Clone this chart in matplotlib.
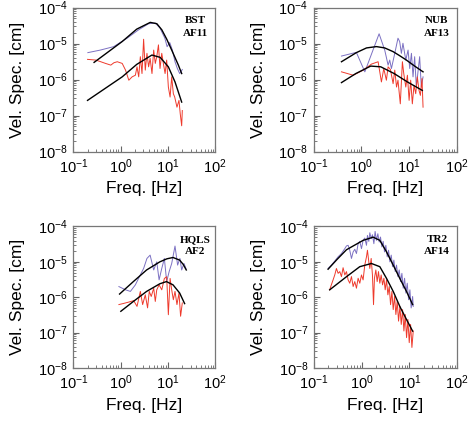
import matplotlib
matplotlib.use("Agg")
import matplotlib.pyplot as plt
from matplotlib.ticker import LogLocator, LogFormatterSciNotation, NullFormatter

plt.rcParams['font.family'] = ['Liberation Sans', 'DejaVu Sans']
plt.rcParams['mathtext.default'] = 'regular'

PURPLE = '#7b70c2'
RED = '#ee3a2c'

# ---- BST / AF11 ----
bst_model_hi_f = [0.275, 1.08, 2.19, 4.23, 5.83, 7.41, 9.44, 12.0, 16.6, 19.5]
bst_model_hi_v = [3.0e-6, 1.14e-5, 2.52e-5, 3.88e-5, 3.56e-5, 2.42e-5, 1.32e-5, 6.6e-6, 2.52e-6, 1.47e-6]
bst_model_lo_f = [0.20, 1.08, 2.19, 4.58, 6.84, 10.2, 14.1, 19.5]
bst_model_lo_v = [2.64e-7, 1.19e-6, 2.64e-6, 4.8e-6, 4.14e-6, 2.26e-6, 8.6e-7, 2.37e-7]
bst_obs_a_f = [0.203, 0.373, 0.71, 1.37, 2.41, 3.9, 5.4, 6.8, 8.6, 9.6, 10.9, 12.4, 14.1, 15.8, 17.7, 20.1]
bst_obs_a_v = [5.6e-6, 6.6e-6, 8.2e-6, 1.41e-5, 2.42e-5, 3.56e-5, 3.72e-5, 2.69e-5, 1.41e-5, 8.2e-6,
               1.07e-5, 6.6e-6, 3.13e-6, 2.03e-6, 1.47e-6, 1.9e-6]
bst_obs_b_f = [0.20, 0.30, 0.38, 0.48, 0.62, 0.72, 0.85, 1.08, 1.27, 1.49, 1.75, 2.05, 2.22, 2.41, 2.61,
               2.83, 3.06, 3.32, 3.6, 3.9, 4.2, 4.6, 5.0, 5.4, 5.8, 6.3, 6.8, 7.4, 8.0, 8.7, 9.4, 10.2,
               11.1, 12.0, 13.0, 13.9, 15.5, 17.1, 18.2, 19.5, 20.1]
bst_obs_b_v = [3.64e-6, 3.48e-6, 3.13e-6, 2.81e-6, 2.52e-6, 2.93e-6, 3.13e-6, 2.81e-6, 1.83e-6, 9.6e-7,
               1.19e-6, 1.32e-6, 2.26e-6, 1.19e-6, 4.32e-6, 1.47e-6, 1.32e-5, 1.83e-6, 5.36e-6, 2.26e-6,
               3.88e-6, 1.47e-6, 6.6e-6, 2.81e-6, 4.32e-6, 9.2e-6, 2.03e-6, 5.36e-6, 2.81e-6, 1.47e-6,
               3.48e-6, 6.2e-7, 3.27e-7, 1.19e-6, 4.05e-7, 3.27e-7, 1.71e-7, 2.64e-7, 1.11e-7, 5.2e-8, 1.38e-7]

# ---- NUB / AF13 ----
nub_model_hi_f = [0.385, 0.79, 1.29, 2.08, 3.11, 4.66, 6.4, 8.85, 13.2, 19.8]
nub_model_hi_v = [3.13e-6, 5.6e-6, 7.57e-6, 8.24e-6, 7.57e-6, 5.97e-6, 4.61e-6, 3.48e-6, 2.37e-6, 1.64e-6]
nub_model_lo_f = [0.385, 0.77, 1.58, 2.57, 4.9, 9.3, 19.1]
nub_model_lo_v = [8.24e-7, 1.47e-6, 2.37e-6, 2.26e-6, 1.47e-6, 8.6e-7, 5.0e-7]
nub_obs_a_f = [0.385, 0.79, 1.19, 2.37, 3.11, 3.66, 3.96, 4.3, 5.05, 5.9, 6.4, 6.95, 7.5, 8.6, 9.6,
               10.4, 11.3, 12.2, 13.2, 14.3, 15.5, 16.8, 18.2, 19.8]
nub_obs_a_v = [4.5e-6, 5.7e-6, 1.64e-6, 1.87e-5, 6.6e-6, 2.52e-6, 3.48e-6, 2.03e-6, 5.36e-6, 1.41e-5,
               1.14e-5, 5.36e-6, 1.02e-5, 3.48e-6, 6.6e-6, 2.03e-6, 5.36e-6, 1.19e-6, 4.32e-6, 6.2e-7,
               1.64e-6, 4.32e-6, 6.2e-7, 1.19e-6]
nub_obs_b_f = [0.385, 0.68, 1.10, 1.64, 2.26, 2.65, 2.97, 3.37, 3.66, 4.1, 4.66, 5.05, 5.5, 5.9, 6.6,
               7.3, 7.8, 8.6, 9.3, 10.1, 10.9, 11.8, 12.8, 13.9, 15.0, 16.3, 17.4, 18.8, 19.8]
nub_obs_b_v = [1.64e-6, 1.32e-6, 1.83e-6, 2.69e-6, 3.13e-6, 8.6e-7, 2.03e-6, 9.6e-7, 2.26e-6, 1.9e-6,
               7.7e-7, 1.83e-6, 6.2e-7, 9.6e-7, 2.12e-7, 3.13e-6, 1.47e-6, 6.2e-7, 1.32e-6, 2.64e-7,
               9.6e-7, 2.12e-7, 6.9e-7, 4.05e-7, 1.19e-6, 5.0e-7, 3.64e-7, 1.07e-6, 1.71e-7]

# ---- HQLS / AF2 ----
hqls_model_hi_f = [0.95, 1.86, 3.54, 6.73, 9.5, 12.8, 17.7, 21.0, 24.4]
hqls_model_hi_v = [1.23e-6, 2.77e-6, 5.9e-6, 1.0e-5, 1.22e-5, 1.33e-5, 1.12e-5, 8.5e-6, 5.9e-6]
hqls_model_lo_f = [1.01, 1.86, 3.54, 6.73, 9.3, 12.8, 17.7, 22.5]
hqls_model_lo_v = [4.0e-7, 7.6e-7, 1.46e-6, 2.4e-6, 2.77e-6, 2.24e-6, 1.31e-6, 6.6e-7]
hqls_obs_a_f = [0.92, 1.27, 1.61, 2.05, 2.61, 3.06, 3.6, 4.2, 5.0, 5.8, 6.5, 7.4, 8.4, 9.4, 10.6,
                12.0, 14.1, 16.0, 17.9, 19.5, 21.8, 24.0]
hqls_obs_a_v = [2.0e-6, 1.62e-6, 1.46e-6, 2.24e-6, 4.3e-6, 6.5e-6, 1.25e-5, 1.55e-5, 5.9e-6, 1.0e-5,
                3.1e-6, 6.5e-6, 1.25e-5, 2.77e-6, 5.3e-6, 9.0e-6, 2.8e-5, 8.1e-6, 1.25e-5, 5.9e-6,
                9.0e-6, 6.5e-6]
hqls_obs_b_f = [0.92, 1.17, 1.49, 1.89, 2.22, 2.61, 2.92, 3.32, 3.71, 4.03, 4.43, 5.0, 5.4, 5.8, 6.5,
                7.4, 8.4, 9.4, 10.2, 11.1, 12.0, 13.0, 14.1, 15.5, 17.1, 18.5, 20.1]
hqls_obs_b_v = [6.2e-7, 6.7e-7, 7.3e-7, 8.0e-7, 5.5e-7, 1.46e-6, 6.2e-7, 1.17e-6, 5.0e-7, 1.46e-6,
                1.05e-6, 1.8e-6, 7.6e-7, 1.62e-6, 2.24e-6, 1.62e-6, 3.4e-6, 3.8e-6, 3.2e-7, 3.4e-6,
                1.62e-6, 8.5e-7, 1.46e-6, 6.2e-7, 1.31e-6, 2.9e-7, 6.9e-7]

# ---- TR2 / AF14 ----
tr2_model_hi_f = [0.197, 0.30, 0.479, 1.07, 1.74, 2.40, 3.32, 4.58, 6.3, 8.7, 11.7]
tr2_model_hi_v = [6.2e-6, 1.15e-5, 2.2e-5, 4.05e-5, 5.0e-5, 4.05e-5, 1.91e-5, 8.1e-6, 3.4e-6, 1.46e-6, 6.2e-7]
tr2_model_lo_f = [0.213, 0.479, 0.91, 1.60, 2.40, 3.32, 4.58, 6.3, 8.7, 11.7]
tr2_model_lo_v = [1.62e-6, 3.8e-6, 7.3e-6, 9.0e-6, 7.3e-6, 3.4e-6, 1.46e-6, 5.5e-7, 2.35e-7, 1.1e-7]
tr2_obs_a_f = [0.197, 0.231, 0.272, 0.320, 0.376, 0.442, 0.479, 0.519, 0.562, 0.610, 0.661, 0.716,
               0.776, 0.841, 0.912, 0.989, 1.07, 1.16, 1.26, 1.32, 1.41, 1.48, 1.58, 1.68, 1.80, 1.91,
               2.04, 2.18, 2.33, 2.48, 2.65, 2.82, 3.01, 3.21, 3.43, 3.66, 3.90, 4.16, 4.44, 4.73,
               5.05, 5.38, 5.74, 6.12, 6.53, 6.97, 7.43, 7.93, 8.45, 9.02, 9.62, 10.26, 10.9, 11.7, 12.05]
tr2_obs_a_v = [6.5e-6, 8.1e-6, 1.05e-5, 1.39e-5, 1.72e-5, 2.37e-5, 2.82e-5, 2.94e-5, 2.13e-5, 1.25e-5,
               1.91e-5, 2.27e-5, 1.72e-5, 3.27e-5, 3.8e-5, 2.37e-5, 4.06e-5, 4.72e-5, 2.94e-5, 5.6e-5,
               3.8e-5, 6.65e-5, 4.52e-5, 5.85e-5, 3.27e-5, 7.25e-5, 4.06e-5, 6.24e-5, 3.65e-5, 5.03e-5,
               2.64e-5, 3.8e-5, 1.91e-5, 2.94e-5, 1.39e-5, 2.13e-5, 1.0e-5, 1.55e-5, 7.3e-6, 1.12e-5,
               5.3e-6, 8.1e-6, 3.83e-6, 5.9e-6, 2.77e-6, 4.74e-6, 1.8e-6, 3.44e-6, 1.31e-6, 2.49e-6,
               8.5e-7, 1.62e-6, 4.98e-7, 1.05e-6, 5.5e-7]
tr2_obs_b_f = [0.213, 0.231, 0.251, 0.272, 0.295, 0.320, 0.347, 0.376, 0.407, 0.442, 0.479, 0.519,
               0.562, 0.610, 0.661, 0.716, 0.776, 0.841, 0.912, 0.989, 1.07, 1.16, 1.26, 1.32, 1.41,
               1.48, 1.58, 1.68, 1.77, 1.85, 1.98, 2.11, 2.25, 2.40, 2.56, 2.74, 2.92, 3.11, 3.32, 3.54,
               3.78, 4.03, 4.30, 4.58, 4.89, 5.21, 5.56, 5.93, 6.33, 6.75, 7.2, 7.68, 8.19, 8.73, 9.31,
               9.93, 10.6, 11.3, 12.05]
tr2_obs_b_v = [1.62e-6, 2.24e-6, 3.09e-6, 4.26e-6, 6.5e-6, 4.74e-6, 5.3e-6, 3.83e-6, 6.83e-6, 4.26e-6,
               5.3e-6, 3.09e-6, 2.49e-6, 3.83e-6, 2.01e-6, 2.77e-6, 1.8e-6, 3.44e-6, 2.49e-6, 4.26e-6,
               3.09e-6, 8.1e-6, 1.39e-5, 2.13e-5, 1.0e-5, 6.5e-6, 1.25e-5, 4.26e-6, 6.17e-7, 3.44e-6,
               5.9e-6, 2.77e-6, 5.3e-6, 2.49e-6, 4.26e-6, 2.24e-6, 3.44e-6, 1.62e-6, 3.09e-6, 1.17e-6,
               2.01e-6, 6.17e-7, 1.46e-6, 4.47e-7, 1.05e-6, 3.24e-7, 7.6e-7, 2.11e-7, 5.5e-7, 1.7e-7,
               4.47e-7, 1.11e-7, 3.24e-7, 7.2e-8, 2.35e-7, 5.2e-8, 1.7e-7, 3.8e-8, 1.11e-7]

station_names = ['BST', 'NUB', 'HQLS', 'TR2']
event_names = ['AF11', 'AF13', 'AF2', 'AF14']

panels = [
    (bst_obs_a_f, bst_obs_a_v, bst_obs_b_f, bst_obs_b_v,
     bst_model_hi_f, bst_model_hi_v, bst_model_lo_f, bst_model_lo_v),
    (nub_obs_a_f, nub_obs_a_v, nub_obs_b_f, nub_obs_b_v,
     nub_model_hi_f, nub_model_hi_v, nub_model_lo_f, nub_model_lo_v),
    (hqls_obs_a_f, hqls_obs_a_v, hqls_obs_b_f, hqls_obs_b_v,
     hqls_model_hi_f, hqls_model_hi_v, hqls_model_lo_f, hqls_model_lo_v),
    (tr2_obs_a_f, tr2_obs_a_v, tr2_obs_b_f, tr2_obs_b_v,
     tr2_model_hi_f, tr2_model_hi_v, tr2_model_lo_f, tr2_model_lo_v),
]

# axes boxes in figure fractions [left, bottom, width, height]
boxes = [
    [0.1566, 0.640, 0.3034, 0.342],
    [0.6700, 0.640, 0.3056, 0.342],
    [0.1566, 0.126, 0.3034, 0.336],
    [0.6710, 0.126, 0.3056, 0.336],
]

fig = plt.figure(figsize=(4.68, 4.21), dpi=100)

for i, box in enumerate(boxes):
    fa, va, fb, vb, fh, vh, fl, vl = panels[i]
    ax = fig.add_axes(box)
    ax.plot(fa, va, color=PURPLE, lw=0.7)
    ax.plot(fb, vb, color=RED, lw=0.7)
    ax.plot(fh, vh, color='black', lw=1.0)
    ax.plot(fl, vl, color='black', lw=1.0)

    ax.set_xscale('log')
    ax.set_yscale('log')
    ax.set_xlim(1e-1, 1e2)
    ax.set_ylim(1e-8, 1e-4)
    ax.xaxis.set_major_locator(LogLocator(base=10, numticks=10))
    ax.yaxis.set_major_locator(LogLocator(base=10, numticks=10))
    ax.xaxis.set_minor_locator(LogLocator(base=10, subs=range(2, 10), numticks=10))
    ax.yaxis.set_minor_locator(LogLocator(base=10, subs=range(2, 10), numticks=10))
    ax.xaxis.set_major_formatter(LogFormatterSciNotation())
    ax.yaxis.set_major_formatter(LogFormatterSciNotation())
    ax.xaxis.set_minor_formatter(NullFormatter())
    ax.yaxis.set_minor_formatter(NullFormatter())
    ax.tick_params(which='both', direction='in', top=False, right=False,
                   color='#666666', labelsize=10.5, pad=4)
    ax.tick_params(which='major', length=4, width=0.8)
    ax.tick_params(which='minor', length=2, width=0.6)
    for sp in ax.spines.values():
        sp.set_color('#777777')
        sp.set_linewidth(0.9)

    ax.set_xlabel('Freq. [Hz]', fontsize=12.5, labelpad=4)
    ax.set_ylabel('Vel. Spec. [cm]', fontsize=12.5, labelpad=9)

    ax.text(0.86, 0.91, station_names[i], transform=ax.transAxes, ha='center', va='center',
            fontsize=8, fontweight='bold', family='Liberation Serif')
    ax.text(0.86, 0.82, event_names[i], transform=ax.transAxes, ha='center', va='center',
            fontsize=8, fontweight='bold', family='Liberation Serif')

fig.savefig('out.png', dpi=100)
